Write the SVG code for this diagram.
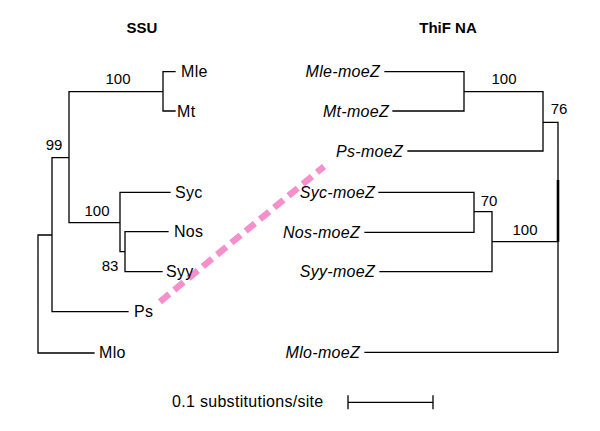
<svg xmlns="http://www.w3.org/2000/svg" width="600" height="431" viewBox="0 0 600 431">
<style>
.l{fill:none;stroke:#000;stroke-width:1.3;stroke-linecap:square}
.t{font-family:"Liberation Sans",Arial,sans-serif;font-size:16px;letter-spacing:0.3px;fill:#000}
.i{font-style:italic}
.b{font-family:"Liberation Sans",Arial,sans-serif;font-size:15px;fill:#000}
.h{font-family:"Liberation Sans",Arial,sans-serif;font-size:15px;font-weight:bold;fill:#000}
</style>
<rect width="600" height="431" fill="#fff"/>
<g id="titles">
<text class="h" x="142" y="33" text-anchor="middle">SSU</text>
<text class="h" x="448" y="33" text-anchor="middle">ThiF NA</text>
</g>
<g id="connectors">
<path class="l" d="M163,71.7H175M163,111H175M163,71.7V111M69,91.7H163M69,91.7V222.7M69,222.7H120M52,157.7H69M52,157.7V311.7M52,311.7H128M38,235H52M38,235V353M38,353H94M120,192.3H170M120,192.3V251.7M120,251.7H125M125,231.7V271.7M125,231.7H168M125,271.7H162"/>
<path class="l" d="M385,71.7H464M393,111H464M464,71.7V111M464,91.7H543M408,151H543M543,91.7V151M543,122.3H558M558,122.3V352.3M379,192.3H474M365,232.3H474M474,192.3V232.3M474,211.7H492M380,271.7H492M492,211.7V271.7M492,241.7H558M365,352.3H558"/>
<path d="M558,180V241.7" stroke="#000" stroke-width="2.6" fill="none"/>
<path class="l" d="M348,402.3H433M348,396V408.5M433,396V408.5"/>
<path d="M160,301.7L324,166.5" stroke="#f590cb" stroke-width="6.5" stroke-dasharray="12,6.5" fill="none"/>
</g>
<g id="ssu-leaves">
<text class="t" x="181" y="77">Mle</text>
<text class="t" x="177" y="117">Mt</text>
<text class="t" x="175" y="198">Syc</text>
<text class="t" x="174" y="237">Nos</text>
<text class="t" x="166" y="277">Syy</text>
<text class="t" x="134" y="317">Ps</text>
<text class="t" x="99" y="358">Mlo</text>
</g>
<g id="ssu-support">
<text class="b" x="118" y="84" text-anchor="middle">100</text>
<text class="b" x="54" y="150" text-anchor="middle">99</text>
<text class="b" x="97" y="216" text-anchor="middle">100</text>
<text class="b" x="110" y="271" text-anchor="middle">83</text>
</g>
<g id="thif-leaves">
<text class="t i" x="380" y="77" text-anchor="end">Mle-moeZ</text>
<text class="t i" x="389" y="117" text-anchor="end">Mt-moeZ</text>
<text class="t i" x="403" y="157" text-anchor="end">Ps-moeZ</text>
<text class="t i" x="375" y="198" text-anchor="end">Syc-moeZ</text>
<text class="t i" x="360" y="238" text-anchor="end">Nos-moeZ</text>
<text class="t i" x="375" y="277" text-anchor="end">Syy-moeZ</text>
<text class="t i" x="360" y="358" text-anchor="end">Mlo-moeZ</text>
</g>
<g id="thif-support">
<text class="b" x="504" y="84" text-anchor="middle">100</text>
<text class="b" x="559" y="114" text-anchor="middle">76</text>
<text class="b" x="489" y="206" text-anchor="middle">70</text>
<text class="b" x="525" y="235" text-anchor="middle">100</text>
</g>
<g id="scale">
<text class="t" x="172" y="407">0.1 substitutions/site</text>
</g>
</svg>
